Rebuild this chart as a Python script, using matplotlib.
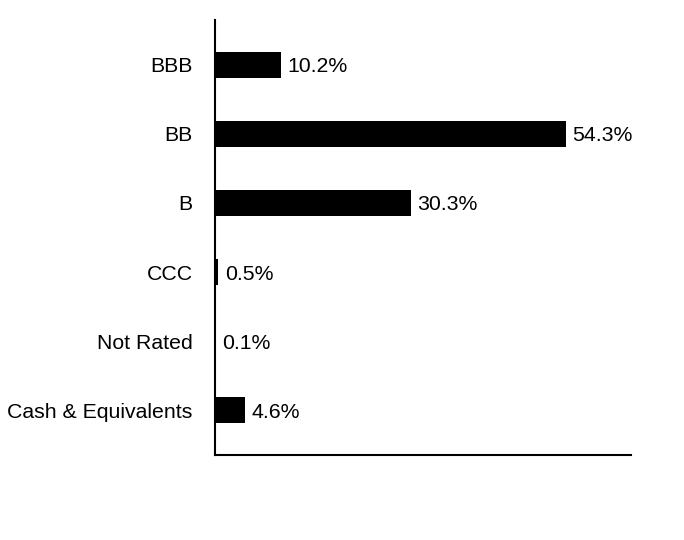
import numpy as np
import matplotlib.pyplot as plt

plt.rcParams['font.family'] = ['Liberation Sans', 'DejaVu Sans']

categories = ['BBB', 'BB', 'B', 'CCC', 'Not Rated', 'Cash & Equivalents']
values = [10.2, 54.3, 30.3, 0.5, 0.1, 4.6]
labels = ['10.2%', '54.3%', '30.3%', '0.5%', '0.1%', '4.6%']

fig = plt.figure(figsize=(6.84, 5.4), dpi=100)
ax = fig.add_axes([0.3143, 0.1574, 0.6082, 0.8056])

# plot top-to-bottom in the listed order
y = np.arange(len(categories))[::-1]
ax.barh(y, values, height=0.38, color='black')

for yi, v, lab in zip(y, values, labels):
    ax.text(v + 1.0, yi, lab, va='center_baseline', ha='left', fontsize=15.3)

ax.set_yticks(y)
ax.set_yticklabels(categories, fontsize=15.3, va='center_baseline')
ax.tick_params(axis='y', length=0, pad=16)
ax.set_xticks([])
ax.set_xlim(0, 64.4)
ax.set_ylim(-0.65, 5.65)

for s in ['top', 'right']:
    ax.spines[s].set_visible(False)
ax.spines['left'].set_linewidth(1.5)
ax.spines['bottom'].set_linewidth(1.5)

fig.savefig('out.png', dpi=100)
